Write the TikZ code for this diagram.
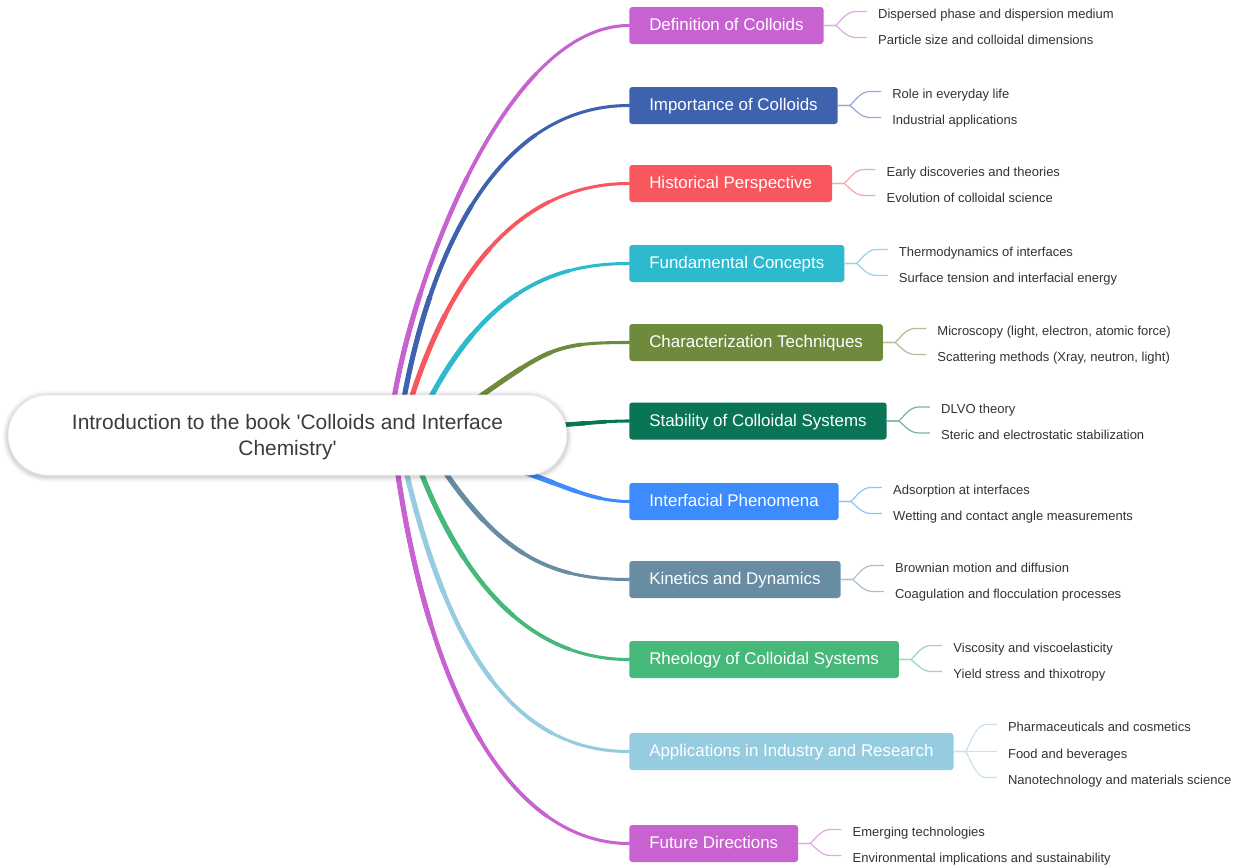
\documentclass[tikz,border=0pt]{standalone}
\usepackage{fontspec}
\setmainfont{Liberation Sans}
\usetikzlibrary{calc}
\pgfdeclarelayer{bg}
\pgfdeclarelayer{shadow}
\pgfsetlayers{bg,shadow,main}
\definecolor{cdef}{HTML}{C762D0}
\definecolor{cimp}{HTML}{3F62AF}
\definecolor{chis}{HTML}{F8575D}
\definecolor{cfun}{HTML}{2DB9CE}
\definecolor{ccha}{HTML}{6E8B3D}
\definecolor{csta}{HTML}{0A7556}
\definecolor{cint}{HTML}{3D8BFD}
\definecolor{ckin}{HTML}{688DA3}
\definecolor{crhe}{HTML}{46B87A}
\definecolor{capp}{HTML}{96CCDF}
\definecolor{cfut}{HTML}{C762D0}
\definecolor{ctext}{HTML}{333333}
\definecolor{croot}{HTML}{3C3C3C}
\newcommand{\leafln}[4]{\draw[lc=#3] (#1.east) -- ++(12,0) .. controls +(6,#4) and +(-9,0) .. ($(#2.west)+(-22,-2)$) -- ($(#2.west)+(-11,-2)$);}
% tapered main link: colour, node name (uses coordinates <name>S, <name>E, <name>A, <name>B)
\newcommand{\mlink}[2]{%
  \foreach \tv/\wv in {1/2.3,0.72/2.8,0.46/3.3,0.22/3.8}{%
    \begin{pgfscope}
    \pgfsetlinewidth{\wv pt}\pgfsetcolor{#1}\pgfsetroundcap
    \pgfpathmoveto{\pgfpointanchor{#2S}{center}}%
    \pgfpathlineto{\pgfpointanchor{#2E}{center}}%
    \pgfpathcurvebetweentimecontinue{0}{\tv}{\pgfpointanchor{#2E}{center}}{\pgfpointanchor{#2A}{center}}{\pgfpointanchor{#2B}{center}}{\pgfpointanchor{#2}{west}}%
    \pgfusepath{stroke}
    \end{pgfscope}}}
\begin{document}
\begin{tikzpicture}[x=0.75pt,y=-0.75pt,
  root/.style={rectangle, rounded corners=30pt, fill=white, draw=black!7, line width=0.6pt,
    minimum width=419pt, minimum height=60pt, align=center, text=croot, text depth=0pt,
    font=\fontsize{15.7}{19.5}\selectfont},
  branch/.style={rectangle, rounded corners=2.25pt, fill=#1, text=white,
    font=\fontsize{12.7}{15}\selectfont, inner xsep=15pt, inner ysep=0pt,
    text height=9pt, text depth=1.4pt, minimum height=27.75pt, anchor=west},
  leaf/.style={anchor=west, inner sep=0pt, text=ctext, text height=7pt, text depth=0pt,
    font=\fontsize{9.75}{12}\selectfont},
  lc/.style={draw=#1!55!white, line width=0.9pt}
]
\begin{pgfonlayer}{bg}
\fill[white] (0,0) rectangle (1240,868);
\end{pgfonlayer}
\useasboundingbox (0,0) rectangle (1240,868);

% root
\node[root] (root) at (287.5,435) {Introduction to the book \textquotesingle Colloids and Interface\\Chemistry\textquotesingle};
\begin{pgfonlayer}{shadow}
\foreach \w/\o in {8/0.025,6/0.03,4/0.04,2.2/0.06}{
  \draw[line width=\w pt, draw=black, draw opacity=\o, rounded corners=30pt]
    ([yshift=-1pt]root.south west) rectangle ([yshift=-1pt]root.north east);}
\end{pgfonlayer}

% branches
\node[branch=cdef] (def) at (629,25.5) {Definition of Colloids};
\node[branch=cimp] (imp) at (629,105.5) {Importance of Colloids};
\node[branch=chis] (his) at (629,183.5) {Historical Perspective};
\node[branch=cfun] (fun) at (629,263.5) {Fundamental Concepts};
\node[branch=ccha] (cha) at (629,342.5) {Characterization Techniques};
\node[branch=csta] (sta) at (629,421) {Stability of Colloidal Systems};
\node[branch=cint] (int) at (629,501.5) {Interfacial Phenomena};
\node[branch=ckin] (kin) at (629,579.5) {Kinetics and Dynamics};
\node[branch=crhe] (rhe) at (629,659.5) {Rheology of Colloidal Systems};
\node[branch=capp] (app) at (629,751.5) {Applications in Industry and Research};
\node[branch=cfut] (fut) at (629,843.5) {Future Directions};

% main link geometry
\coordinate (defS) at (388,432);   \coordinate (defE) at (395,393);
\coordinate (defA) at (418.5,262.3); \coordinate (defB) at (509.5,25.5);
\coordinate (impS) at (397.5,432); \coordinate (impE) at (405,393);
\coordinate (impA) at (433.7,242.4); \coordinate (impB) at (501.7,105.5);
\coordinate (hisS) at (400.5,431); \coordinate (hisE) at (413,393);
\coordinate (hisA) at (455.6,263.7); \coordinate (hisB) at (525,183.5);
\coordinate (funS) at (413.7,428); \coordinate (funE) at (433,393);
\coordinate (funA) at (490.2,289); \coordinate (funB) at (555.8,263.5);
\coordinate (chaS) at (452.2,416); \coordinate (chaE) at (485,393);
\coordinate (chaA) at (549.8,347.7); \coordinate (chaB) at (558.9,342.5);
\coordinate (staS) at (515,426.5); \coordinate (staE) at (540,426);
\coordinate (staA) at (580,424.5); \coordinate (staB) at (600,421);
\coordinate (intS) at (494,462); \coordinate (intE) at (532,475);
\coordinate (intA) at (565,486.4); \coordinate (intB) at (594,501.5);
\coordinate (kinS) at (424,442); \coordinate (kinE) at (447,475);
\coordinate (kinA) at (503.1,555); \coordinate (kinB) at (551.6,579.5);
\coordinate (rheS) at (407,438); \coordinate (rheE) at (422,475);
\coordinate (rheA) at (481.2,623); \coordinate (rheB) at (560.5,659.5);
\coordinate (appS) at (397.7,436); \coordinate (appE) at (407,475);
\coordinate (appA) at (456.2,680.3); \coordinate (appB) at (531.8,751.5);
\coordinate (futS) at (392,435.4); \coordinate (futE) at (398,475);
\coordinate (futA) at (436.3,731); \coordinate (futB) at (528,843.5);

\begin{pgfonlayer}{bg}
\mlink{cdef}{def}
\mlink{cimp}{imp}
\mlink{chis}{his}
\mlink{cfun}{fun}
\mlink{ccha}{cha}
\mlink{csta}{sta}
\mlink{cint}{int}
\mlink{ckin}{kin}
\mlink{crhe}{rhe}
\mlink{capp}{app}
\mlink{cfut}{fut}
\end{pgfonlayer}

% leaves
\node[leaf] (def1) at ($(def.east)+(54,-12)$) {Dispersed phase and dispersion medium};
\node[leaf] (def2) at ($(def.east)+(54,14)$) {Particle size and colloidal dimensions};
\node[leaf] (imp1) at ($(imp.east)+(54,-12)$) {Role in everyday life};
\node[leaf] (imp2) at ($(imp.east)+(54,14)$) {Industrial applications};
\node[leaf] (his1) at ($(his.east)+(54,-12)$) {Early discoveries and theories};
\node[leaf] (his2) at ($(his.east)+(54,14)$) {Evolution of colloidal science};
\node[leaf] (fun1) at ($(fun.east)+(54,-12)$) {Thermodynamics of interfaces};
\node[leaf] (fun2) at ($(fun.east)+(54,14)$) {Surface tension and interfacial energy};
\node[leaf] (cha1) at ($(cha.east)+(54,-12)$) {Microscopy (light, electron, atomic force)};
\node[leaf] (cha2) at ($(cha.east)+(54,14)$) {Scattering methods (Xray, neutron, light)};
\node[leaf] (sta1) at ($(sta.east)+(54,-12)$) {DLVO theory};
\node[leaf] (sta2) at ($(sta.east)+(54,14)$) {Steric and electrostatic stabilization};
\node[leaf] (int1) at ($(int.east)+(54,-12)$) {Adsorption at interfaces};
\node[leaf] (int2) at ($(int.east)+(54,14)$) {Wetting and contact angle measurements};
\node[leaf] (kin1) at ($(kin.east)+(54,-12)$) {Brownian motion and diffusion};
\node[leaf] (kin2) at ($(kin.east)+(54,14)$) {Coagulation and flocculation processes};
\node[leaf] (rhe1) at ($(rhe.east)+(54,-12)$) {Viscosity and viscoelasticity};
\node[leaf] (rhe2) at ($(rhe.east)+(54,14)$) {Yield stress and thixotropy};
\node[leaf] (app1) at ($(app.east)+(54,-25)$) {Pharmaceuticals and cosmetics};
\node[leaf] (app2) at ($(app.east)+(54,2)$) {Food and beverages};
\node[leaf] (app3) at ($(app.east)+(54,28)$) {Nanotechnology and materials science};
\node[leaf] (fut1) at ($(fut.east)+(54,-12)$) {Emerging technologies};
\node[leaf] (fut2) at ($(fut.east)+(54,14)$) {Environmental implications and sustainability};

\leafln{def}{def1}{cdef}{-6}
\leafln{def}{def2}{cdef}{5}
\leafln{imp}{imp1}{cimp}{-6}
\leafln{imp}{imp2}{cimp}{5}
\leafln{his}{his1}{chis}{-6}
\leafln{his}{his2}{chis}{5}
\leafln{fun}{fun1}{cfun}{-6}
\leafln{fun}{fun2}{cfun}{5}
\leafln{cha}{cha1}{ccha}{-6}
\leafln{cha}{cha2}{ccha}{5}
\leafln{sta}{sta1}{csta}{-6}
\leafln{sta}{sta2}{csta}{5}
\leafln{int}{int1}{cint}{-6}
\leafln{int}{int2}{cint}{5}
\leafln{kin}{kin1}{ckin}{-6}
\leafln{kin}{kin2}{ckin}{5}
\leafln{rhe}{rhe1}{crhe}{-6}
\leafln{rhe}{rhe2}{crhe}{5}
\leafln{app}{app1}{capp}{-12}
\leafln{app}{app2}{capp}{0}
\leafln{app}{app3}{capp}{11}
\leafln{fut}{fut1}{cfut}{-6}
\leafln{fut}{fut2}{cfut}{5}
\end{tikzpicture}
\end{document}
